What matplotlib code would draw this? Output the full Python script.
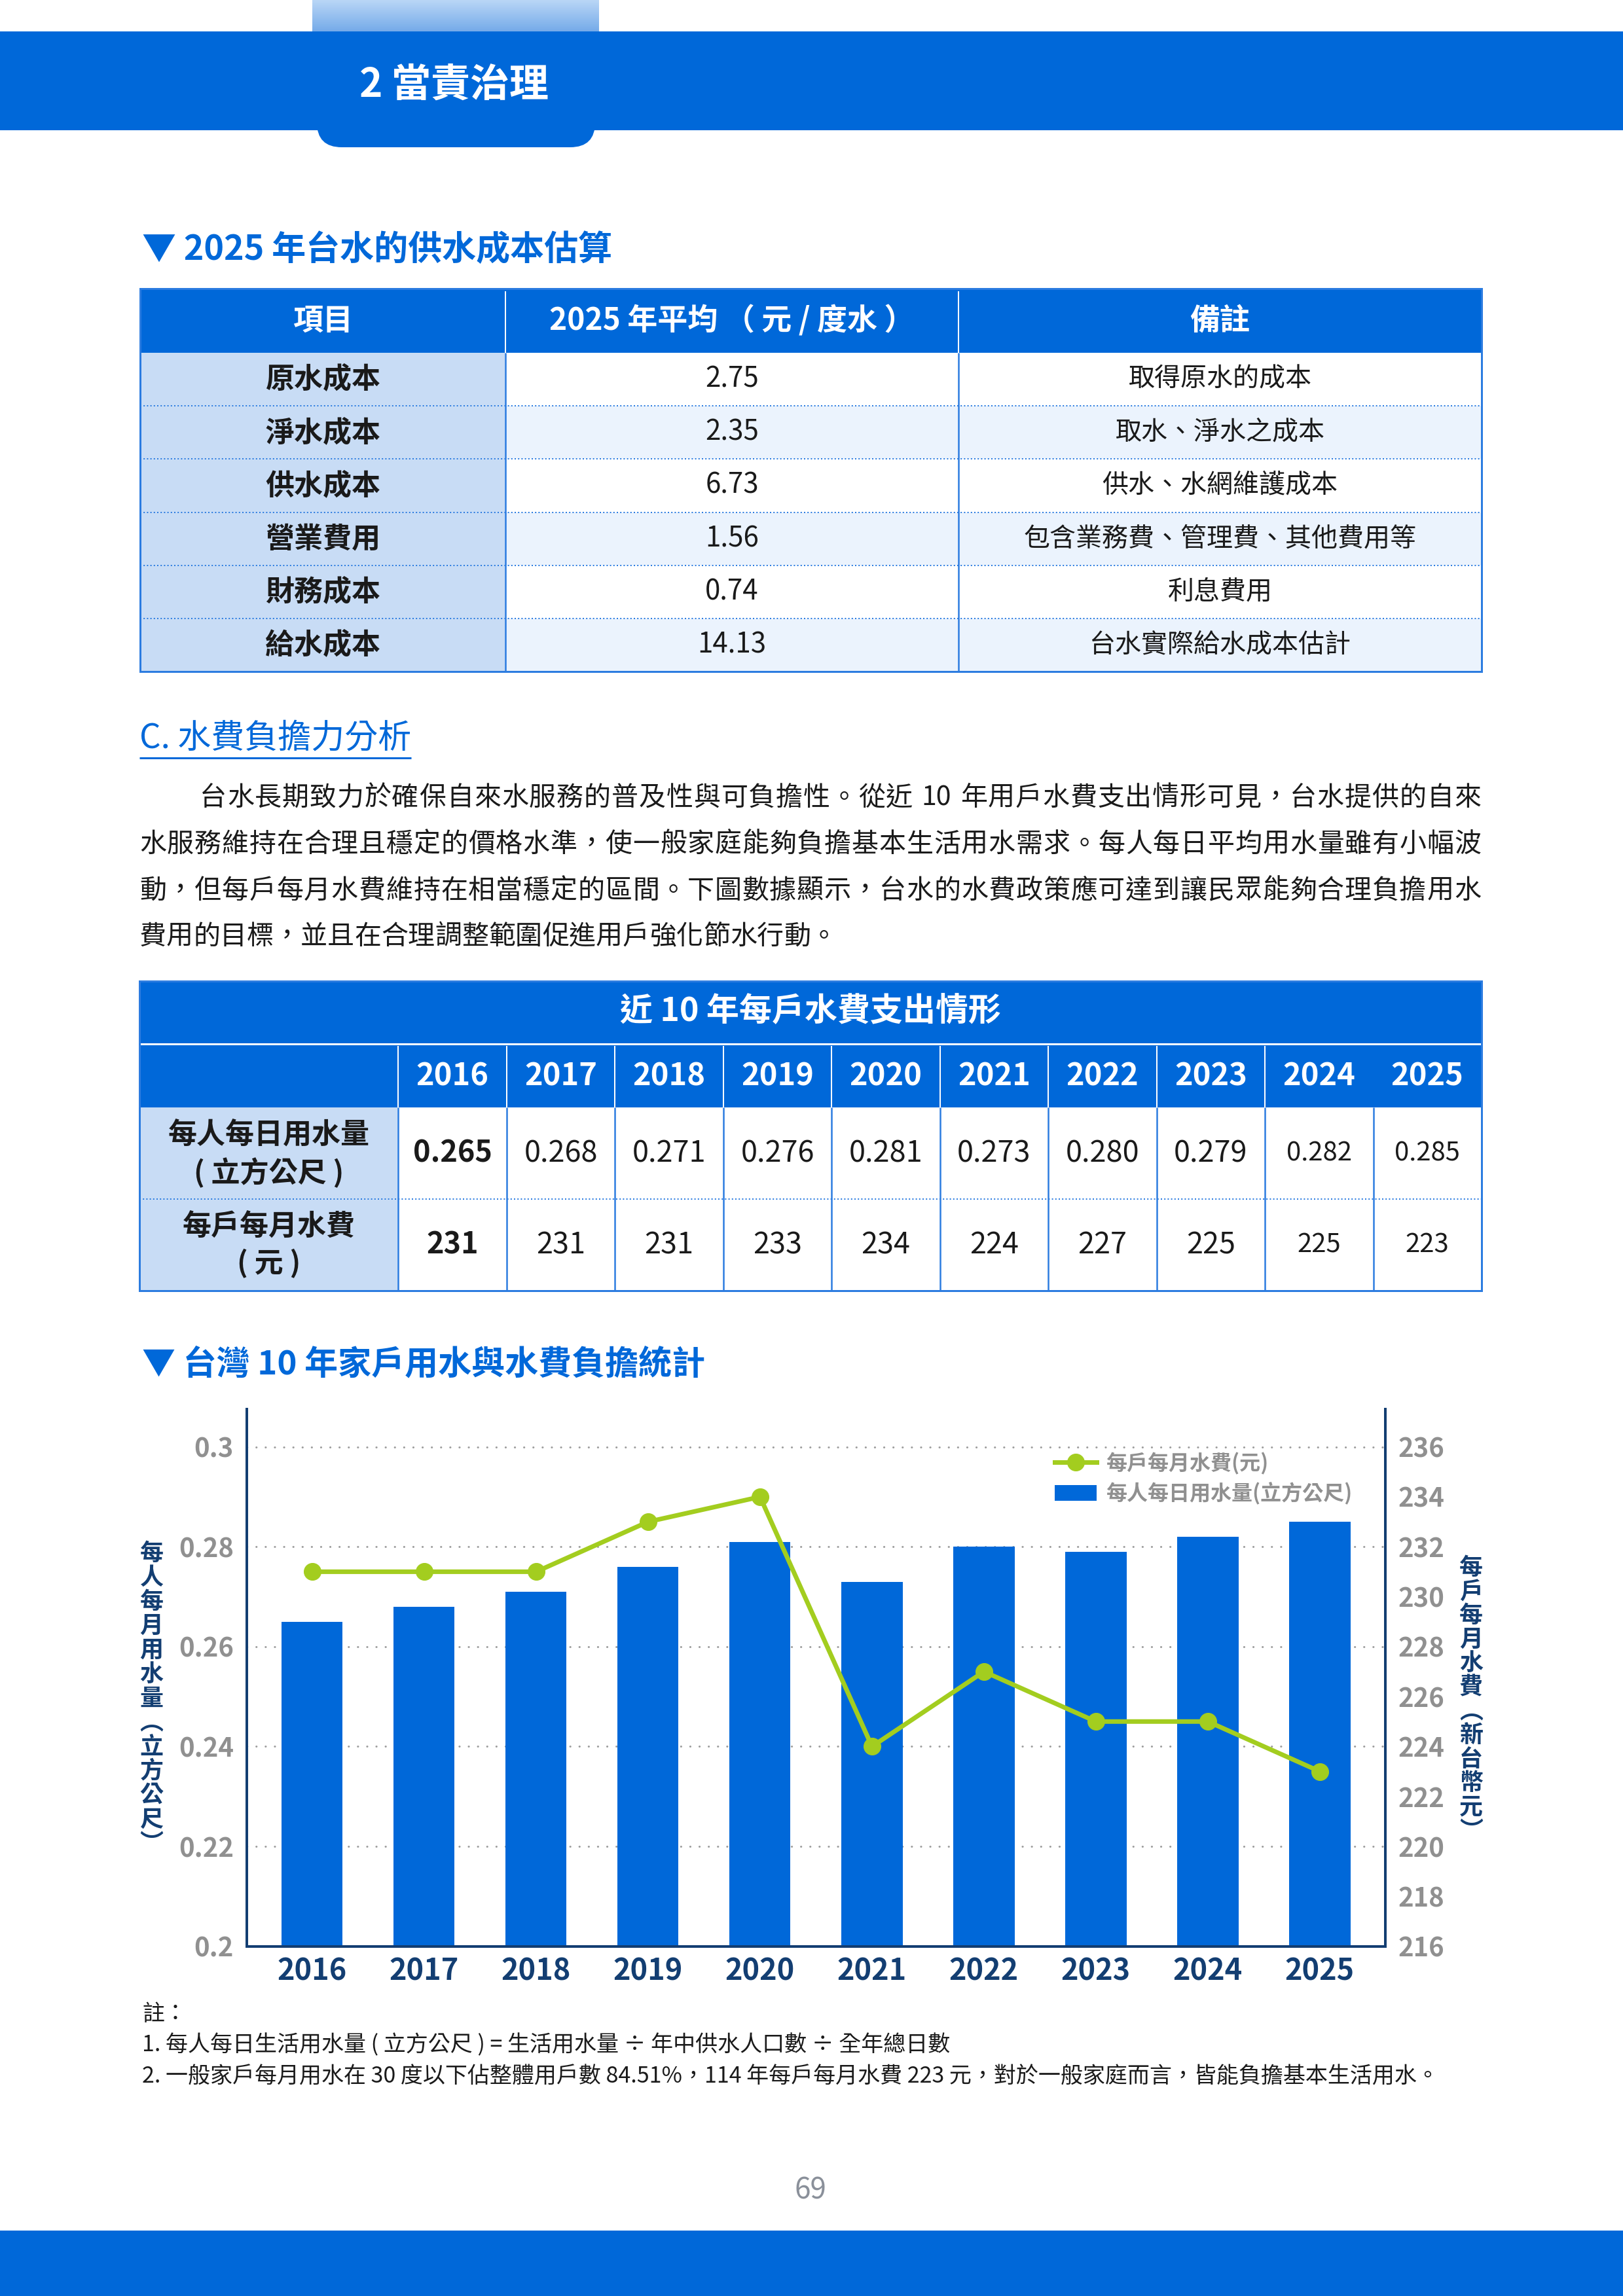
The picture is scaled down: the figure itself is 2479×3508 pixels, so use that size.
import numpy as np
import matplotlib
matplotlib.use("Agg")
import matplotlib.pyplot as plt
from matplotlib.colors import LinearSegmentedColormap
from matplotlib.lines import Line2D
from matplotlib.patches import FancyBboxPatch, Patch, Rectangle

plt.rcParams["font.family"] = ["Noto Sans CJK TC", "DejaVu Sans"]

W, H, DPI = 2479, 3508, 72

BLUE = "#0068D9"
NAVY = "#133E72"
GREEN = "#A3CD1F"
LIGHT = "#C8DCF5"
ALT = "#EBF3FD"
LINE_BLUE = "#2C7CE0"
GRAY = "#909090"
INK = "#1A1A1A"

# ---- data -------------------------------------------------------------
cost_items = ["原水成本", "淨水成本", "供水成本", "營業費用", "財務成本", "給水成本"]
cost_avg = [2.75, 2.35, 6.73, 1.56, 0.74, 14.13]
cost_notes = ["取得原水的成本", "取水、淨水之成本", "供水、水網維護成本",
              "包含業務費、管理費、其他費用等", "利息費用", "台水實際給水成本估計"]

years = [2016, 2017, 2018, 2019, 2020, 2021, 2022, 2023, 2024, 2025]
daily_use = [0.265, 0.268, 0.271, 0.276, 0.281, 0.273, 0.280, 0.279, 0.282, 0.285]
monthly_fee = [231, 231, 231, 233, 234, 224, 227, 225, 225, 223]

use_ticks = [0.2, 0.22, 0.24, 0.26, 0.28, 0.3]
fee_ticks = [216, 218, 220, 222, 224, 226, 228, 230, 232, 234, 236]

paragraph = [
    "台水長期致力於確保自來水服務的普及性與可負擔性。從近 10 年用戶水費支出情形可見，台水提供的自來",
    "水服務維持在合理且穩定的價格水準，使一般家庭能夠負擔基本生活用水需求。每人每日平均用水量雖有小幅波",
    "動，但每戶每月水費維持在相當穩定的區間。下圖數據顯示，台水的水費政策應可達到讓民眾能夠合理負擔用水",
    "費用的目標，並且在合理調整範圍促進用戶強化節水行動。",
]
footnotes = [
    "註：",
    "1. 每人每日生活用水量 ( 立方公尺 ) = 生活用水量 ÷ 年中供水人口數 ÷ 全年總日數",
    "2. 一般家戶每月用水在 30 度以下佔整體用戶數 84.51%，114 年每戶每月水費 223 元，對於一般家庭而言，皆能負擔基本生活用水。",
]

# ---- page canvas (pixel coordinates, y down) --------------------------
fig = plt.figure(figsize=(W / DPI, H / DPI), dpi=DPI, facecolor="white")
bg = fig.add_axes([0, 0, 1, 1])
bg.set_autoscale_on(False)
bg.set_xlim(0, W)
bg.set_ylim(H, 0)
bg.axis("off")
renderer = fig.canvas.get_renderer()


def box(x0, y0, x1, y1, color, z=1):
    bg.add_patch(Rectangle((x0, y0), x1 - x0, y1 - y0, facecolor=color,
                           edgecolor="none", zorder=z))


def hline(x0, x1, y, color, lw, dotted=False):
    ls = (0, (1, 1.6)) if dotted else "-"
    bg.plot([x0, x1], [y, y], color=color, lw=lw, ls=ls, zorder=2,
            solid_capstyle="butt")


def vline(x, y0, y1, color, lw):
    bg.plot([x, x], [y0, y1], color=color, lw=lw, zorder=2, solid_capstyle="butt")


def put(x, y, s, size, color=INK, weight="normal", ha="center", va="center"):
    return bg.text(x, y, s, fontsize=size, color=color, fontweight=weight,
                   ha=ha, va=va, zorder=3)


# header band
grad = np.linspace(0, 1, 64).reshape(-1, 1)
tab_cmap = LinearSegmentedColormap.from_list("tab", ["#B9D6F6", "#74AAE9"])
bg.imshow(grad, cmap=tab_cmap, extent=(477, 915, 49, 0), aspect="auto", zorder=1)
box(0, 48, W, 199, BLUE)
bg.add_patch(FancyBboxPatch((484, 150), 425, 75, boxstyle="round,pad=0,rounding_size=38",
                            facecolor=BLUE, edgecolor="none", zorder=1))
put(549, 130, "2 當責治理", 60, "white", "bold", ha="left")

# ---- table 1 ----------------------------------------------------------
put(217, 381, "▼ 2025 年台水的供水成本估算", 52, BLUE, "bold", ha="left")
c1 = [214, 772, 1464, 2263]
t1_top, t1_head = 441, 539
rh1 = (1026 - t1_head) / len(cost_items)
box(c1[0], t1_top, c1[-1], t1_head, BLUE)
for xv in c1[1:-1]:
    vline(xv, t1_top + 4, t1_head, "white", 2)
for s, xc in zip(["項目", "2025 年平均 （ 元 / 度水 ）", "備註"],
                 [(c1[0] + c1[1]) / 2, (c1[1] + c1[2]) / 2, (c1[2] + c1[3]) / 2]):
    put(xc, (t1_top + t1_head) / 2, s, 46, "white", "bold")
for i, (item, val, note) in enumerate(zip(cost_items, cost_avg, cost_notes)):
    y0 = t1_head + i * rh1
    box(c1[0], y0, c1[1], y0 + rh1, LIGHT)
    box(c1[1], y0, c1[3], y0 + rh1, ALT if i % 2 else "white")
    if i:
        hline(c1[0], c1[3], y0, LINE_BLUE, 2, dotted=True)
    yc = y0 + rh1 / 2
    put((c1[0] + c1[1]) / 2, yc, item, 44, INK, "bold")
    put((c1[1] + c1[2]) / 2, yc, f"{val:.2f}", 42)
    put((c1[2] + c1[3]) / 2, yc, note, 40)
for xv in c1[1:-1]:
    vline(xv, t1_head, 1026, LINE_BLUE, 2.5)
bg.add_patch(Rectangle((c1[0], t1_top), c1[-1] - c1[0], 1026 - t1_top, facecolor="none",
                       edgecolor=LINE_BLUE, lw=3, zorder=2))

# ---- section C --------------------------------------------------------
sec = put(213, 1128, "C. 水費負擔力分析", 51, BLUE, ha="left")
ext = sec.get_window_extent(renderer)
hline(213, 213 + ext.width, 1158, BLUE, 3)


def is_wide(tok):
    return len(tok) == 1 and ord(tok) >= 0x2E80


def tokens_of(line):
    toks, buf = [], ""
    for ch in line:
        if is_wide(ch) or ch == " ":
            if buf:
                toks.append(buf)
                buf = ""
            toks.append(ch)
        else:
            buf += ch
    if buf:
        toks.append(buf)
    return toks


def put_line(line, x0, x1, yc, size, justify):
    base = yc + 0.38 * size
    toks = tokens_of(line)
    widths, arts = [], []
    for t in toks:
        if t == " ":
            widths.append(0.25 * size)
            arts.append(None)
        elif is_wide(t):
            widths.append(size)
            arts.append(bg.text(0, base, t, fontsize=size, color=INK, ha="center",
                                va="baseline", zorder=3))
        else:
            a = bg.text(0, base, t, fontsize=size, color=INK, ha="left",
                        va="baseline", zorder=3)
            widths.append(a.get_window_extent(renderer).width + 0.08 * size)
            arts.append(a)
    gap = (x1 - x0 - sum(widths)) / (len(toks) - 1) if justify else 0
    xx = x0
    for t, w, a in zip(toks, widths, arts):
        if a is not None:
            a.set_x(xx + w / 2 if is_wide(t) else xx + 0.04 * size)
        xx += w + gap


para_y = [1215, 1286, 1357, 1427]
for k, (line, yc) in enumerate(zip(paragraph, para_y)):
    put_line(line, 305 if k == 0 else 213, 2262, yc, 41, k < len(paragraph) - 1)

# ---- table 2 ----------------------------------------------------------
t2_left, t2_first, t2_right = 212.6, 608.4, 2263
c2 = [t2_left] + list(np.linspace(t2_first, t2_right, len(years) + 1))
t2_top, t2_title, t2_year, t2_r1, t2_r2 = 1499, 1593, 1692, 1832, 1972
box(t2_left, t2_top, t2_right, t2_year, BLUE)
hline(t2_left, t2_right, 1595, "white", 3)
put((t2_left + t2_right) / 2, (t2_top + t2_title) / 2, "近 10 年每戶水費支出情形", 50, "white", "bold")
for k, yr in enumerate(years):
    put((c2[k + 1] + c2[k + 2]) / 2, (1597 + t2_year) / 2, str(yr), 47, "white", "bold")
for xv in c2[1:-2]:
    vline(xv, 1598, t2_year, "white", 2)
box(t2_left, t2_year, c2[1], t2_r2, LIGHT)
box(c2[1], t2_year, t2_right, t2_r2, "white")
hline(t2_left, t2_right, t2_r1, LINE_BLUE, 2, dotted=True)
for xv in c2[1:-1]:
    vline(xv, t2_year, t2_r2, LINE_BLUE, 2.5)
xc0 = (c2[0] + c2[1]) / 2
put(xc0, 1735, "每人每日用水量", 44, INK, "bold")
put(xc0, 1792, "( 立方公尺 )", 44, INK, "bold")
put(xc0, 1875, "每戶每月水費", 44, INK, "bold")
put(xc0, 1931, "( 元 )", 44, INK, "bold")
for k, (u, f) in enumerate(zip(daily_use, monthly_fee)):
    xc = (c2[k + 1] + c2[k + 2]) / 2
    wt = "bold" if k == 0 else "normal"
    sz = 40 if k >= 8 else 45
    put(xc, (t2_year + t2_r1) / 2, f"{u:.3f}", sz, INK, wt)
    put(xc, (t2_r1 + t2_r2) / 2, f"{f:d}", sz, INK, wt)
bg.add_patch(Rectangle((t2_left, t2_top), t2_right - t2_left, t2_r2 - t2_top, facecolor="none",
                       edgecolor=LINE_BLUE, lw=3, zorder=2))

# ---- chart ------------------------------------------------------------
put(217, 2085, "▼ 台灣 10 年家戶用水與水費負擔統計", 51, BLUE, "bold", ha="left")

ax_l, ax_r, ax_t, ax_b = 376.8, 2116, 2152.7, 2973.6
ax = fig.add_axes([ax_l / W, 1 - ax_b / H, (ax_r - ax_l) / W, (ax_b - ax_t) / H])
x = np.arange(len(years))
ax.bar(x, daily_use, width=0.545, color=BLUE, zorder=2)
ax.set_xlim(-0.585, len(years) - 1 + 0.585)
ax.set_ylim(0.2, 0.3076)
ax.set_yticks(use_ticks)
ax.set_yticklabels([f"{v:g}" for v in use_ticks])
ax.set_xticks(x)
ax.set_xticklabels([str(y) for y in years])
ax.yaxis.grid(True, color="#9C9C9C", linewidth=3, linestyle=(0, (0.1, 4.6)),
              dash_capstyle="round")
ax.set_axisbelow(True)
for s in ["top", "right"]:
    ax.spines[s].set_visible(False)
for s in ["left", "bottom"]:
    ax.spines[s].set_color(NAVY)
    ax.spines[s].set_linewidth(4)
ax.tick_params(axis="both", length=0)
ax.tick_params(axis="y", pad=20, labelsize=40, labelcolor=GRAY)
ax.tick_params(axis="x", pad=16, labelsize=45, labelcolor=NAVY)
for lbl in ax.get_xticklabels():
    lbl.set_fontweight("bold")
for lbl in ax.get_yticklabels():
    lbl.set_fontweight("bold")

ax2 = ax.twinx()
ax2.plot(x, monthly_fee, color=GREEN, lw=7, marker="o", ms=26, zorder=3)
ax2.set_ylim(216, 237.52)
ax2.set_yticks(fee_ticks)
for s in ["top", "left", "bottom"]:
    ax2.spines[s].set_visible(False)
ax2.spines["right"].set_color(NAVY)
ax2.spines["right"].set_linewidth(4)
ax2.tick_params(axis="y", length=0, pad=20, labelsize=40, labelcolor=GRAY)
for lbl in ax2.get_yticklabels():
    lbl.set_fontweight("bold")

handles = [Line2D([], [], color=GREEN, lw=7, marker="o", ms=26), Patch(facecolor=BLUE)]
ax2.legend(handles, ["每戶每月水費(元)", "每人每日用水量(立方公尺)"], loc="upper left",
           bbox_to_anchor=(1611, 2219), bbox_transform=bg.transData, frameon=False,
           prop={"size": 32, "weight": "bold"}, labelcolor=GRAY, handlelength=2.0,
           handleheight=0.82, handletextpad=0.45, labelspacing=0.35, borderpad=0,
           borderaxespad=0)

# stacked vertical axis titles
left_title = list("每人每月用水量") + ["︵"] + list("立方公尺") + ["︶"]
right_title = list("每戶每月水費") + ["︵"] + list("新台幣元") + ["︶"]
for chars, xc, y_first, y_last in [(left_title, 231.6, 2373, 2817),
                                   (right_title, 2247, 2395, 2798)]:
    step = (y_last - y_first) / (len(chars) - 1)
    for i, ch in enumerate(chars):
        put(xc, y_first + i * step, ch, 36, NAVY, "bold")

# ---- footnotes, page number, footer ----------------------------------
for s, yc in zip(footnotes, [3078, 3125, 3173]):
    put(217, yc, s, 34, INK, ha="left")
put(1238, 3347, "69", 44, "#8A909A")
box(0, 3408, W, H, BLUE)

fig.savefig("out.png", dpi=DPI, facecolor="white")
